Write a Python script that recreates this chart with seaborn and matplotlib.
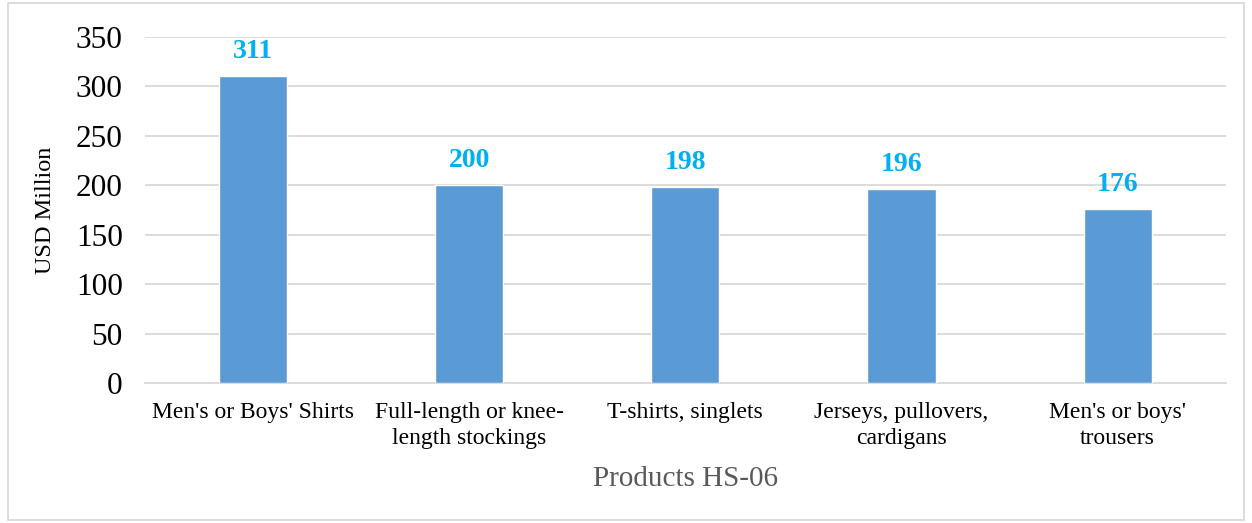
import pandas as pd
import seaborn as sns
import matplotlib.pyplot as plt
from matplotlib.patches import Rectangle

# Data
products = [
    "Men's or Boys' Shirts",
    "Full-length or knee-\nlength stockings",
    "T-shirts, singlets",
    "Jerseys, pullovers,\ncardigans",
    "Men's or boys'\ntrousers",
]
values = [311, 200, 198, 196, 176]
yticks = [0, 50, 100, 150, 200, 250, 300, 350]

df = pd.DataFrame({"product": products, "value": values})

sns.set_theme(style="white")
plt.rcParams['font.family'] = ['Liberation Serif', 'DejaVu Serif']

fig = plt.figure(figsize=(12.52, 5.23), dpi=100)
ax = fig.add_axes([0.1158, 0.2677, 0.8632, 0.6616])

sns.barplot(data=df, x="product", y="value", color="#5B9BD5", width=0.315,
            saturation=1, ax=ax, zorder=3)

for i, v in enumerate(values):
    ax.text(i, v + 12, str(v), ha="center", va="bottom", color="#00B0F0",
            fontsize=20, fontweight="bold")

ax.set_ylim(0, 350)
ax.set_yticks(yticks)
ax.yaxis.grid(True, color="#D9D9D9", linewidth=1.3, zorder=0)
ax.tick_params(axis="y", labelsize=22.5, length=0, pad=16, labelcolor="black")
ax.tick_params(axis="x", labelsize=17, length=0, pad=14, labelcolor="black")
for lbl in ax.get_xticklabels():
    lbl.set_linespacing(1.3)
ax.set_ylabel("USD Million", fontsize=17.5, labelpad=14, color="black")
ax.set_xlabel("Products HS-06", fontsize=21, color="#595959", labelpad=12)

for s in ["top", "right", "left"]:
    ax.spines[s].set_visible(False)
ax.spines["bottom"].set_color("#D9D9D9")
ax.spines["bottom"].set_linewidth(1.3)

fig.patches.append(Rectangle((0.006, 0.006), 0.988, 0.988, transform=fig.transFigure,
                             fill=False, edgecolor="#D9D9D9", linewidth=1.3))

fig.savefig("out.png", dpi=100)
